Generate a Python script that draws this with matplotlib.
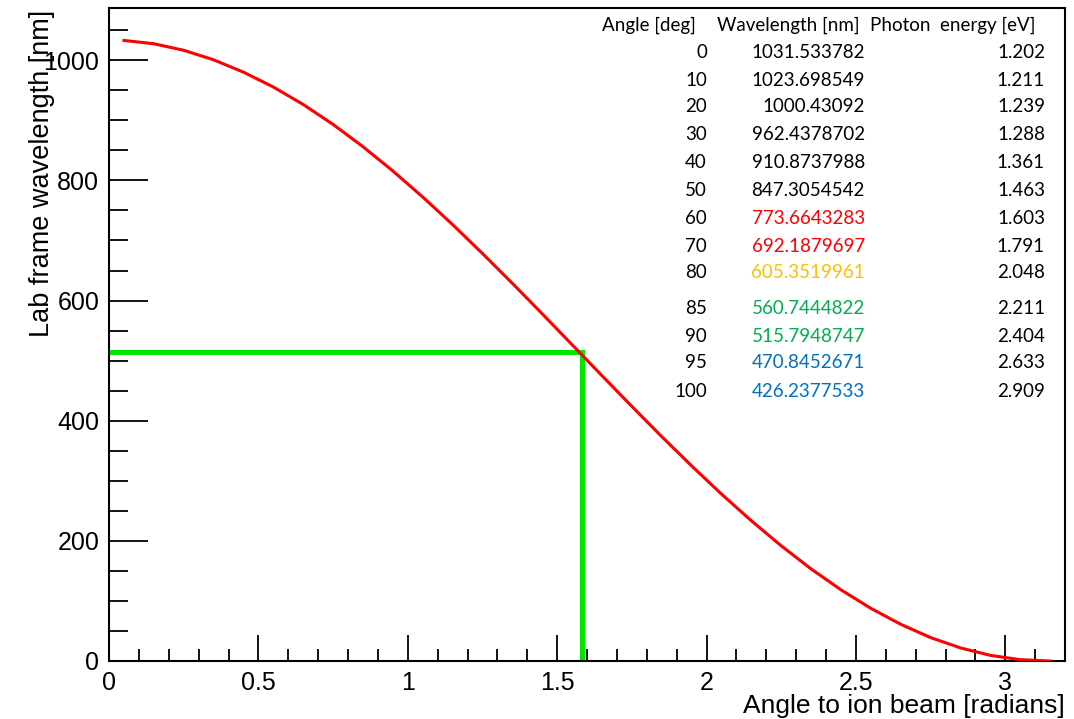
"""
Longitud de onda en el laboratorio vs. ángulo respecto al haz de iones.
"""

import matplotlib
matplotlib.use("Agg")
import matplotlib.pyplot as plt
from matplotlib.ticker import MultipleLocator, FuncFormatter

# Curva (radianes, nm)
curve_angle = [0.05, 0.15, 0.25, 0.35, 0.45, 0.55, 0.65, 0.75, 0.85, 0.95,
               1.05, 1.15, 1.25, 1.35, 1.45, 1.55, 1.65, 1.75, 1.85, 1.95,
               2.05, 2.15, 2.25, 2.35, 2.45, 2.55, 2.65, 2.75, 2.85, 2.95,
               3.05, 3.15]
curve_wavelength = [1033.0, 1027.5, 1016.6, 1000.8, 980.2, 955.5, 926.4, 893.2,
                    856.2, 815.8, 772.4, 726.5, 678.4, 628.8, 578.0, 526.5,
                    475.0, 423.9, 373.6, 324.9, 277.9, 233.5, 191.8, 153.3,
                    118.5, 87.7, 61.1, 39.0, 21.8, 9.4, 2.2, 0.0]

# Marcador (líneas verdes)
marker_angle = 1.583
marker_wavelength = 514.0

# Tabla
table_header = ["Angle [deg]", "Wavelength [nm]", "Photon  energy [eV]"]
table_deg = [0, 10, 20, 30, 40, 50, 60, 70, 80, 85, 90, 95, 100]
table_wavelength = ["1031.533782", "1023.698549", "1000.43092", "962.4378702",
                    "910.8737988", "847.3054542", "773.6643283", "692.1879697",
                    "605.3519961", "560.7444822", "515.7948747", "470.8452671",
                    "426.2377533"]
table_energy = ["1.202", "1.211", "1.239", "1.288", "1.361", "1.463", "1.603",
                "1.791", "2.048", "2.211", "2.404", "2.633", "2.909"]
table_colors = ["black"] * 6 + ["#ff0000", "#ff0000", "#ffc000",
                                "#00b050", "#00b050", "#0070c0", "#0070c0"]
row_y_px = [52, 80, 107, 135, 163, 191, 218, 246, 273, 308, 336, 363, 391]

W, H = 1074, 719
plt.rcParams["font.family"] = ["Liberation Sans", "DejaVu Sans"]

fig = plt.figure(figsize=(W / 100, H / 100), dpi=100)
ax = fig.add_axes([109 / W, 1 - 661 / H, (1065 - 109) / W, (661 - 8) / H])

ax.plot(curve_angle, curve_wavelength, color="#ff0000", lw=2.2, zorder=3)
ax.plot([0, marker_angle], [marker_wavelength, marker_wavelength],
        color="#00e600", lw=3.6, solid_capstyle="butt", zorder=2)
ax.plot([marker_angle, marker_angle], [0, marker_wavelength],
        color="#00e600", lw=3.6, solid_capstyle="projecting", zorder=2)

ax.set_xlim(0, 3.2)
ax.set_ylim(0, 1087)
ax.xaxis.set_major_locator(MultipleLocator(0.5))
ax.xaxis.set_minor_locator(MultipleLocator(0.1))
ax.yaxis.set_major_locator(MultipleLocator(200))
ax.yaxis.set_minor_locator(MultipleLocator(50))
ax.xaxis.set_major_formatter(FuncFormatter(lambda v, p: f"{v:g}"))
ax.tick_params(axis="both", which="both", direction="in", labelsize=18,
               color="black", width=1.3)
ax.tick_params(axis="x", which="major", length=19, pad=7)
ax.tick_params(axis="x", which="minor", length=9)
ax.tick_params(axis="y", which="major", length=28, pad=7)
ax.tick_params(axis="y", which="minor", length=14)
for s in ax.spines.values():
    s.set_linewidth(1.5)

ax.set_xlabel("Angle to ion beam [radians]", fontsize=19, loc="right")
ax.xaxis.set_label_coords(1.0, -0.05)
ax.set_ylabel("Lab frame wavelength [nm]", fontsize=19.5, loc="top")
ax.yaxis.set_label_coords(-0.056, 0.997)


def fx(px):
    return px / W


def fy(py):
    return 1 - py / H


tfont = dict(family="Lato", fontsize=13.5, va="center")
for label, cx in zip(table_header, [649, 788, 953]):
    fig.text(fx(cx), fy(25), label, ha="center", **tfont)
for deg, wl, en, col, y in zip(table_deg, table_wavelength, table_energy,
                               table_colors, row_y_px):
    fig.text(fx(707), fy(y), str(deg), ha="right", **tfont)
    fig.text(fx(865), fy(y), wl, ha="right", color=col, **tfont)
    fig.text(fx(1045), fy(y), en, ha="right", **tfont)

fig.savefig("out.png", dpi=100)
